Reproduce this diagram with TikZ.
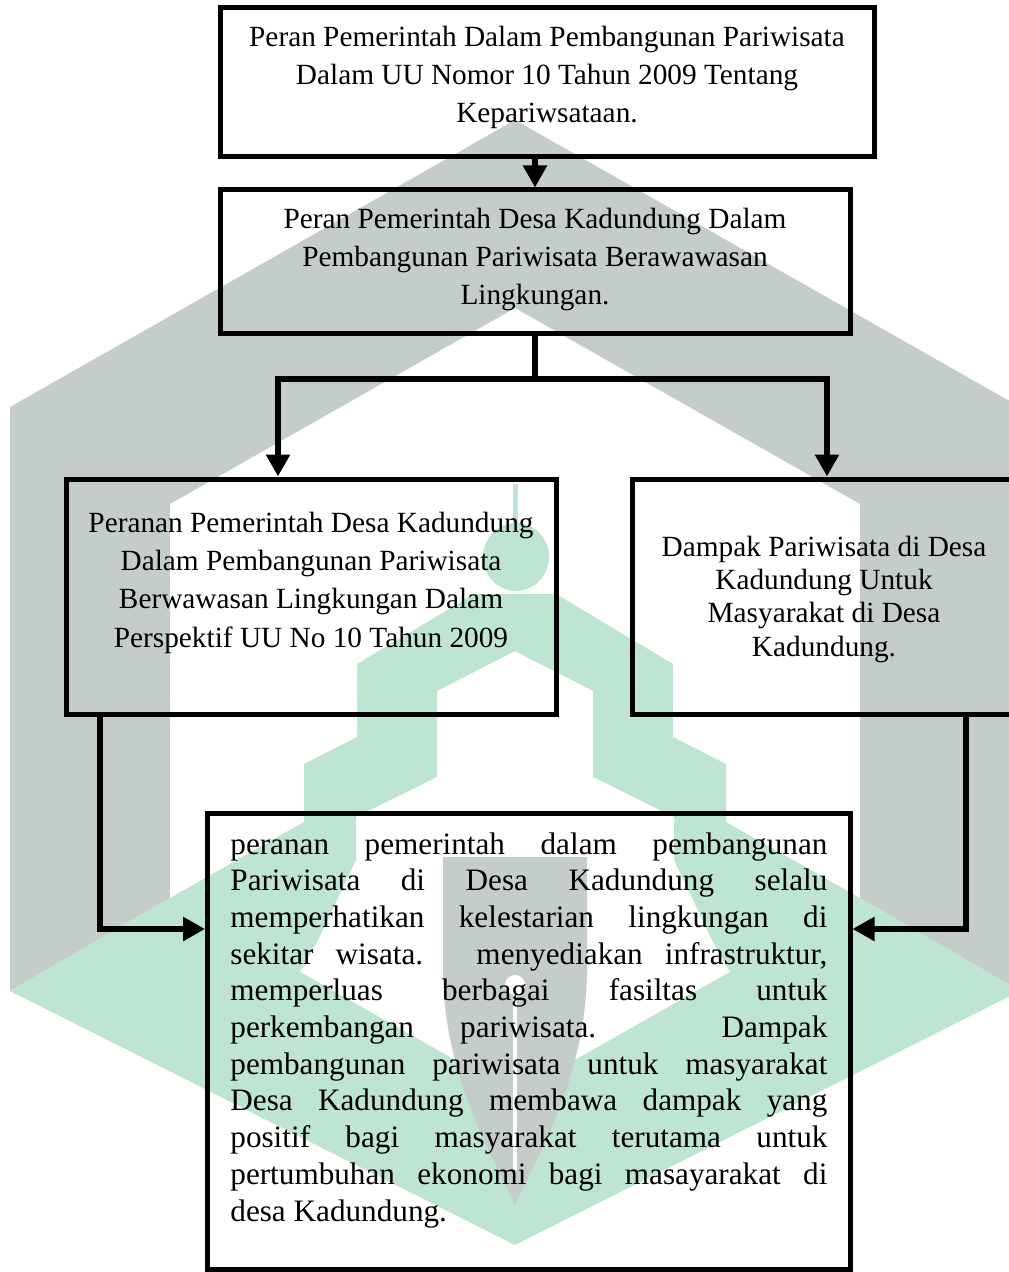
\documentclass[tikz,border=0pt]{standalone}
\usepackage{fontspec}
\setmainfont{Liberation Serif}
\usetikzlibrary{arrows.meta}
\definecolor{wmgray}{RGB}{197,205,202}
\definecolor{wmgreen}{RGB}{190,229,210}
\tolerance=10000 \hbadness=10000 \hyphenpenalty=10000
\begin{document}
\begin{tikzpicture}[x=0.5pt,y=-0.5pt,
  box/.style={draw=black, line width=2.5pt, inner sep=0pt, rectangle},
  txt/.style={font=\fontsize{14.65}{19.15}\selectfont, align=center, inner sep=0pt, anchor=base},
  conn/.style={line width=3.2pt, draw=black},
  arr/.style={conn, -{Triangle[width=11.5pt,length=11pt]}}]
\fill[white] (0,0) rectangle (1008,1272);
\useasboundingbox (0,0) rectangle (1008,1272);
% watermark
\fill[wmgray] (515,120) -- (10,407) -- (10,991) -- (170,898) -- (170,504) -- (515,308) -- (860,504) -- (860,898) -- (1020,991) -- (1020,407) -- cycle;
\fill[wmgreen] (170,898) -- (515,1094) -- (860,898) -- (1020,991) -- (515,1245) -- (10,991) -- cycle;
\fill[wmgreen] (474,594) -- (357,664) -- (357,737) -- (304,764) -- (304,822) -- (170,898) -- (300,972) -- (318,940) -- (356,860) -- (356,817) -- (437,777) -- (437,691) -- (515,651) -- (593,691) -- (593,777) -- (674,817) -- (674,860) -- (712,940) -- (730,972) -- (860,898) -- (726,822) -- (726,764) -- (673,737) -- (673,664) -- (556,594) -- cycle;
\fill[wmgreen] (516,557) ellipse [x radius=16.5pt, y radius=17pt];
\fill[wmgreen] (513,484) rectangle (518,530);
\fill[wmgray] (443,857) -- (443,975) .. controls (445,1080) and (495,1160) .. (515,1205) .. controls (535,1160) and (585,1080) .. (587,975) -- (587,857) -- cycle;
\fill[white] (515,985) circle [radius=5pt];
\draw[white, line width=2pt] (515,985) -- (515,1170);
% boxes
\node[box, minimum width=327pt, minimum height=74.75pt] (b1) at (547,82.25) {};
\node[box, minimum width=315pt, minimum height=72pt] (b2) at (535,262) {};
\node[box, minimum width=245pt, minimum height=117.5pt] (bL) at (311,596.5) {};
\node[box, minimum width=192pt, minimum height=117.5pt] (bR) at (824,596.5) {};
\node[box, minimum width=321.25pt, minimum height=228pt] (bB) at (528.75,1041) {};
% texts (anchor = baseline of the last line)
\node[txt] (t1) at (547,123) {Peran Pemerintah Dalam Pembangunan Pariwisata\\Dalam UU Nomor 10 Tahun 2009 Tentang\\Kepariwsataan.};
\node[txt] (t2) at (535,305) {Peran Pemerintah Desa Kadundung Dalam\\Pembangunan Pariwisata Berawawasan\\Lingkungan.};
\node[txt] (tL) at (311,647) {Peranan Pemerintah Desa Kadundung\\Dalam Pembangunan Pariwisata\\Berwawasan Lingkungan Dalam\\Perspektif UU No 10 Tahun 2009};
\node[txt, font=\fontsize{14.65}{16.65}\selectfont] (tR) at (824,656) {Dampak Pariwisata di Desa\\Kadundung Untuk\\Masyarakat di Desa\\Kadundung.};
\node[font=\fontsize{15.6}{18.35}\selectfont, text width=298.5pt, align=justify, inner sep=0pt, anchor=base west] (tB) at (230,854) {peranan pemerintah dalam pembangunan\linebreak
Pariwisata di Desa Kadundung selalu\linebreak
memperhatikan kelestarian lingkungan di\linebreak
sekitar wisata. menyediakan infrastruktur,\linebreak
memperluas berbagai fasiltas untuk\linebreak
perkembangan pariwisata. Dampak\linebreak
pembangunan pariwisata untuk masyarakat\linebreak
Desa Kadundung membawa dampak yang\linebreak
positif bagi masyarakat terutama untuk\linebreak
pertumbuhan ekonomi bagi masayarakat di\linebreak
desa Kadundung.};
% connectors
\coordinate (jL) at (278,379);
\coordinate (jR) at (827,379);
\coordinate (cL) at (100,929);
\coordinate (cR) at (966,929);
\draw[arr] (b1.south -| b2.north) -- (b2.north);
\draw[conn] (b2.south) -- (b2.south |- jL);
\draw[arr] (b2.south |- jL) -| (jL |- bL.north);
\draw[arr] (b2.south |- jR) -| (jR |- bR.north);
\draw[arr] (bL.south -| cL) |- (bB.west |- cL);
\draw[arr] (bR.south -| cR) |- (bB.east |- cR);
\end{tikzpicture}
\end{document}
